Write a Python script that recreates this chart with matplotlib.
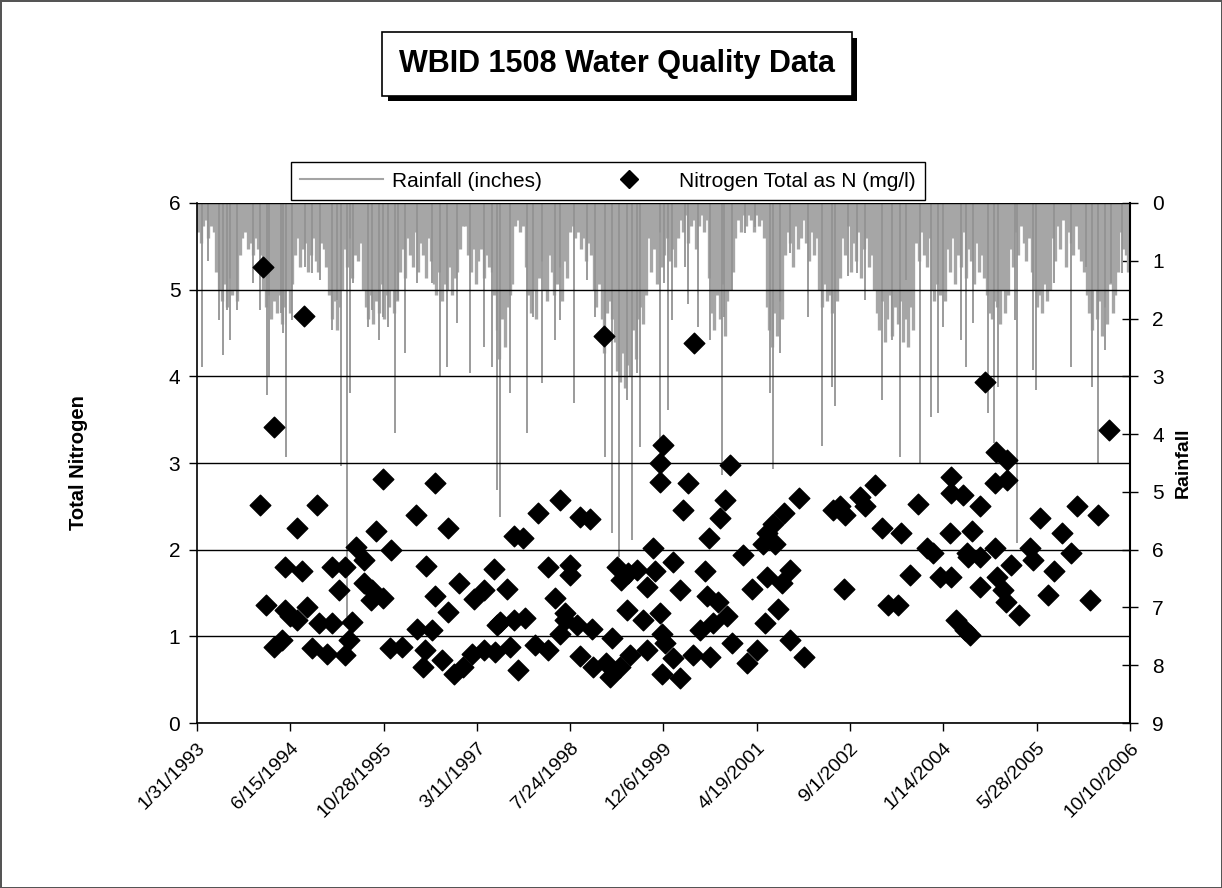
import matplotlib
matplotlib.use("Agg")
import matplotlib.pyplot as plt
import matplotlib.dates as mdates
import matplotlib.patheffects as pe
from matplotlib.lines import Line2D
from datetime import datetime

plt.rcParams['font.family'] = ['Liberation Sans', 'DejaVu Sans']

# ---- data (decimal years) ----
# Total nitrogen samples (mg/l)
n_year = [1994.01, 1994.05, 1994.09, 1994.21, 1994.22, 1994.33, 1994.38, 1994.38, 1994.45, 1994.55,
          1994.55, 1994.62, 1994.65, 1994.70, 1994.77, 1994.84, 1994.87, 1994.99, 1995.06, 1995.06,
          1995.16, 1995.26, 1995.26, 1995.31, 1995.36, 1995.41, 1995.53, 1995.53, 1995.63, 1995.65,
          1995.71, 1995.82, 1995.82, 1995.92, 1995.93, 1996.09, 1996.29, 1996.31, 1996.40, 1996.43,
          1996.45, 1996.53, 1996.58, 1996.58, 1996.68, 1996.76, 1996.77, 1996.85, 1996.92, 1996.99,
          1997.12, 1997.14, 1997.29, 1997.29, 1997.44, 1997.46, 1997.48, 1997.53, 1997.63, 1997.68,
          1997.73, 1997.73, 1997.80, 1997.87, 1997.90, 1998.04, 1998.09, 1998.24, 1998.24, 1998.34,
          1998.41, 1998.41, 1998.49, 1998.49, 1998.56, 1998.56, 1998.66, 1998.70, 1998.70, 1998.85,
          1998.88, 1998.90, 1999.05, 1999.09, 1999.14, 1999.17, 1999.24, 1999.29, 1999.31, 1999.40,
          1999.41, 1999.44, 1999.54, 1999.63, 1999.68, 1999.68, 1999.78, 1999.81, 1999.88, 1999.88,
          1999.88, 1999.90, 1999.90, 1999.92, 1999.95, 2000.07, 2000.07, 2000.17, 2000.17, 2000.21,
          2000.29, 2000.36, 2000.37, 2000.46, 2000.54, 2000.56, 2000.59, 2000.61, 2000.65, 2000.73,
          2000.76, 2000.83, 2000.86, 2000.90, 2000.93, 2001.10, 2001.15, 2001.22, 2001.30, 2001.39,
          2001.42, 2001.44, 2001.44, 2001.54, 2001.56, 2001.61, 2001.66, 2001.69, 2001.78, 2001.78,
          2001.91, 2001.99, 2002.42, 2002.52, 2002.57, 2002.59, 2002.81, 2002.88, 2003.03, 2003.13,
          2003.22, 2003.37, 2003.42, 2003.55, 2003.67, 2003.79, 2003.89, 2003.99, 2004.13, 2004.15,
          2004.15, 2004.15, 2004.22, 2004.33, 2004.35, 2004.38, 2004.40, 2004.42, 2004.45, 2004.57,
          2004.57, 2004.57, 2004.65, 2004.79, 2004.79, 2004.80, 2004.82, 2004.91, 2004.95, 2004.96,
          2004.96, 2005.02, 2005.15, 2005.31, 2005.35, 2005.45, 2005.57, 2005.65, 2005.77, 2005.91,
          2006.00, 2006.18, 2006.31, 2006.47]
n_value = [2.52, 5.26, 1.36, 3.42, 0.88, 0.96, 1.80, 1.30, 1.23, 1.19,
           2.25, 1.75, 4.70, 1.34, 0.86, 2.52, 1.15, 0.80, 1.80, 1.15,
           1.53, 1.80, 0.78, 0.96, 1.17, 2.03, 1.88, 1.61, 1.42, 1.53,
           2.21, 2.81, 1.44, 0.86, 2.00, 0.88, 2.40, 1.09, 0.65, 0.84,
           1.81, 1.07, 2.77, 1.46, 0.73, 2.25, 1.28, 0.57, 1.61, 0.65,
           0.80, 1.43, 1.53, 0.84, 1.78, 0.82, 1.13, 1.17, 1.55, 0.88,
           2.16, 1.19, 0.61, 2.13, 1.21, 0.90, 2.42, 1.80, 0.84, 1.44,
           2.57, 1.03, 1.27, 1.19, 1.82, 1.71, 1.13, 2.38, 0.77, 2.35,
           1.09, 0.65, 4.46, 0.69, 0.53, 0.98, 1.80, 0.65, 1.65, 1.30,
           1.73, 0.78, 1.77, 1.19, 1.57, 0.84, 2.02, 1.75, 3.00, 2.78,
           1.27, 1.03, 0.57, 3.21, 0.92, 1.86, 0.75, 1.53, 0.52, 2.46,
           2.77, 0.78, 4.38, 1.07, 1.75, 1.46, 2.13, 0.76, 1.15, 1.40,
           2.36, 2.57, 1.23, 2.98, 0.92, 1.94, 0.69, 1.55, 0.84, 2.07,
           1.15, 2.19, 1.69, 2.30, 2.07, 1.32, 1.61, 2.42, 1.77, 0.96,
           2.60, 0.76, 2.46, 2.50, 1.55, 2.40, 2.61, 2.50, 2.75, 2.25,
           1.36, 1.36, 2.19, 1.71, 2.53, 2.02, 1.96, 1.69, 2.19, 2.84,
           2.65, 1.69, 1.19, 2.63, 1.07, 1.96, 1.92, 1.02, 2.21, 2.50,
           1.92, 1.57, 3.94, 2.77, 2.02, 3.13, 1.69, 1.53, 1.40, 3.03,
           2.80, 1.82, 1.25, 2.02, 1.88, 2.36, 1.48, 1.75, 2.19, 1.96,
           2.50, 1.42, 2.40, 3.38]

# Rainfall (inches): long individual storm strands
rain_year = [1993.16, 1993.25, 1993.40, 1993.47, 1993.52, 1993.57, 1993.67, 1993.91, 1994.01, 1994.11,
             1994.14, 1994.31, 1994.34, 1994.39, 1994.48, 1994.67, 1994.77, 1994.89, 1995.06, 1995.14,
             1995.20, 1995.28, 1995.33, 1995.38, 1995.60, 1995.65, 1995.75, 1995.82, 1995.89, 1995.99,
             1996.04, 1996.14, 1996.31, 1996.53, 1996.65, 1996.75, 1996.90, 1997.09, 1997.29, 1997.41,
             1997.48, 1997.53, 1997.68, 1997.93, 1998.02, 1998.14, 1998.34, 1998.41, 1998.61, 1998.80,
             1998.92, 1999.07, 1999.17, 1999.27, 1999.39, 1999.46, 1999.54, 1999.58, 1999.88, 1999.93,
             2000.00, 2000.05, 2000.24, 2000.29, 2000.44, 2000.61, 2000.78, 2000.81, 2000.93, 2001.12,
             2001.27, 2001.49, 2001.54, 2001.64, 2001.78, 2002.05, 2002.25, 2002.40, 2002.44, 2002.64,
             2002.76, 2002.88, 2003.13, 2003.28, 2003.40, 2003.49, 2003.69, 2003.86, 2003.96, 2004.03,
             2004.30, 2004.37, 2004.47, 2004.69, 2004.77, 2004.84, 2005.08, 2005.11, 2005.35, 2005.40,
             2005.65, 2005.91, 2006.13, 2006.21, 2006.31, 2006.40, 2006.50, 2006.65]
rain_inches = [2.83, 1.01, 2.02, 2.63, 1.85, 2.37, 1.85, 1.39, 1.85, 3.32,
               3.00, 1.91, 2.25, 4.39, 2.02, 1.10, 1.22, 1.33, 2.20, 1.68,
               4.56, 7.16, 3.29, 1.39, 2.14, 1.85, 2.37, 1.97, 2.14, 3.98,
               1.68, 2.60, 1.39, 1.39, 3.00, 2.83, 2.08, 2.95, 2.49, 2.83,
               4.97, 5.43, 3.29, 3.98, 1.97, 3.12, 2.37, 2.02, 3.47, 1.33,
               1.97, 4.39, 5.72, 6.12, 3.41, 5.83, 2.95, 4.22, 4.10, 1.39,
               3.58, 2.02, 1.10, 1.74, 2.14, 2.37, 4.70, 1.97, 1.51, 0.52,
               0.41, 3.29, 4.60, 2.60, 0.87, 1.97, 4.20, 3.18, 3.52, 1.27,
               1.22, 1.68, 3.41, 2.37, 4.39, 1.33, 4.50, 3.70, 3.64, 2.14,
               2.37, 2.83, 2.08, 3.64, 4.16, 3.18, 2.02, 5.89, 2.89, 3.24,
               1.39, 2.83, 1.10, 3.18, 4.50, 2.54, 1.39, 1.22]

# Rainfall (inches): the dense band of smaller daily totals, 26 readings per year
band_years = list(range(1993, 2007))
band_inches = [
    [0.0, 0.0, 0.5, 0.7, 0.4, 0.3, 0.6, 0.4, 0.5, 1.2, 1.5, 1.7, 1.4, 1.8, 1.3, 1.6, 1.5, 1.7, 0.9, 0.6, 0.5, 0.8, 0.7, 0.9, 0.6, 0.8],
    [0.9, 1.5, 1.8, 1.6, 2.0, 1.7, 1.9, 1.6, 2.1, 1.8, 1.5, 1.9, 1.4, 0.9, 0.6, 1.1, 0.8, 0.7, 1.2, 0.9, 0.6, 1.0, 1.2, 0.7, 0.8, 1.1],
    [1.6, 2.0, 1.7, 2.2, 1.8, 1.5, 0.8, 1.1, 0.6, 1.3, 0.9, 1.0, 0.7, 1.5, 1.8, 2.0, 1.6, 2.1, 1.7, 1.9, 1.4, 2.0, 1.6, 1.8, 1.5, 1.9],
    [1.7, 1.2, 0.8, 1.3, 0.6, 0.9, 1.1, 0.5, 1.2, 0.7, 0.9, 1.3, 0.6, 1.0, 1.4, 1.6, 1.2, 1.7, 1.4, 1.5, 1.1, 1.6, 1.3, 1.2, 0.8, 0.4],
    [0.4, 0.9, 1.2, 0.8, 1.4, 1.0, 0.8, 1.3, 0.9, 1.1, 1.2, 1.6, 2.2, 2.7, 2.0, 2.5, 1.8, 1.6, 1.4, 0.4, 0.3, 0.5, 0.4, 1.1, 1.6, 1.9],
    [1.5, 2.0, 1.3, 1.0, 1.5, 1.7, 0.9, 1.2, 1.6, 1.4, 1.1, 1.7, 1.0, 1.3, 0.5, 0.4, 0.6, 0.5, 0.8, 0.6, 1.0, 0.7, 0.9, 1.5, 1.8, 1.4],
    [2.0, 2.6, 1.9, 1.7, 2.0, 2.4, 2.9, 3.1, 2.6, 3.2, 2.8, 3.0, 2.2, 2.7, 2.0, 1.8, 2.1, 1.6, 0.6, 1.2, 0.8, 1.4, 0.5, 1.1, 0.9, 0.6],
    [1.0, 0.8, 1.1, 0.6, 0.3, 0.5, 0.2, 0.7, 0.4, 0.3, 0.8, 0.4, 0.2, 0.5, 0.3, 1.3, 1.9, 2.2, 1.6, 2.0, 1.4, 2.3, 1.7, 1.5, 1.2, 0.6],
    [0.3, 0.5, 0.2, 0.4, 0.2, 0.3, 0.5, 0.2, 0.4, 0.3, 0.6, 1.8, 2.2, 2.5, 1.9, 2.3, 1.7, 2.0, 0.9, 0.5, 0.7, 1.1, 0.4, 0.8, 0.6, 0.3],
    [0.7, 1.0, 0.5, 0.9, 0.6, 1.5, 1.8, 1.4, 1.7, 1.6, 1.9, 1.5, 1.7, 1.3, 0.6, 0.9, 0.4, 1.2, 0.7, 1.0, 0.5, 1.3, 0.8, 0.6, 1.1, 0.9],
    [1.5, 1.9, 2.2, 1.7, 2.4, 2.0, 1.6, 2.3, 1.8, 2.1, 1.7, 2.4, 2.0, 2.5, 1.8, 2.2, 0.7, 1.0, 0.5, 0.9, 1.1, 0.6, 1.5, 1.7, 1.4, 1.6],
    [1.5, 1.7, 0.8, 1.2, 0.6, 1.4, 0.9, 1.1, 0.5, 1.3, 0.8, 1.0, 1.4, 0.7, 1.2, 0.9, 1.3, 1.6, 1.9, 2.0, 1.7, 1.8, 2.1, 1.5, 1.9, 1.6],
    [0.8, 1.1, 0.5, 0.9, 0.4, 0.7, 1.0, 0.6, 1.2, 1.5, 1.8, 1.6, 1.9, 1.4, 1.7, 1.5, 0.6, 1.0, 0.4, 0.8, 0.3, 1.1, 0.5, 0.7, 0.9, 0.4],
    [0.8, 1.0, 1.2, 1.6, 1.9, 2.2, 1.5, 2.0, 1.7, 2.3, 1.8, 2.1, 1.4, 1.9, 1.6, 1.2, 0.5, 0.8, 0.9, 1.2, 1.0, 0.0, 0.0, 0.0, 0.0, 0.0],
]

axis_start = datetime(1993, 1, 31)
tick_step_days = 500
n_ticks = 11


def year_to_num(y):
    yi = int(y)
    a = mdates.date2num(datetime(yi, 1, 1))
    b = mdates.date2num(datetime(yi + 1, 1, 1))
    return a + (y - yi) * (b - a)


def main():
    fig = plt.figure(figsize=(12.22, 8.88), dpi=100)
    fig.patch.set_edgecolor('#555555')
    fig.patch.set_linewidth(1.0)

    ax = fig.add_axes([0.1612, 0.1858, 0.7635, 0.5856])
    ax2 = ax.twinx()

    rain_grey = '#a4a4a4'
    # band of daily totals
    bx, by = [], []
    for yr, row in zip(band_years, band_inches):
        for j, v in enumerate(row):
            if v > 0:
                bx.append(year_to_num(yr + (j + 0.5) / 26.0))
                by.append(v)
    ax2.vlines(bx, 0, by, color='#a6a6a6', linewidth=2.4)
    ax2.vlines([year_to_num(y) for y in rain_year], 0, rain_inches,
               color='#939393', linewidth=1.3)

    ax.scatter([year_to_num(y) for y in n_year], n_value, marker='D', s=110,
               color='black', zorder=5)

    t0 = mdates.date2num(axis_start)
    ticks = [t0 + tick_step_days * k for k in range(n_ticks)]
    ax.set_xlim(ticks[0], ticks[-1])
    ax.set_xticks(ticks)
    labels = []
    for t in ticks:
        d = mdates.num2date(t)
        labels.append(f"{d.month}/{d.day}/{d.year}")
    ax.set_xticklabels(labels, rotation=45, ha='right', rotation_mode='anchor', fontsize=14)

    ax.set_ylim(0, 6)
    ax.set_yticks(range(0, 7))
    ax.grid(axis='y', color='black', linewidth=1.0)
    ax.tick_params(axis='y', labelsize=15, length=6, width=1, direction='out', pad=6)
    ax.tick_params(axis='x', length=6, width=1, direction='out', pad=6)
    ax.set_ylabel('Total Nitrogen', fontsize=14.5, fontweight='bold', labelpad=58)

    ax2.set_ylim(9, 0)
    ax2.set_yticks(range(0, 10))
    ax2.tick_params(axis='y', labelsize=15, length=12, width=1, direction='inout', pad=10)
    ax2.set_ylabel('Rainfall', fontsize=14, fontweight='bold', labelpad=8)

    for s in ['top', 'right']:
        ax.spines[s].set_visible(False)
    for s in ['top', 'left', 'bottom']:
        ax2.spines[s].set_visible(False)
    ax.spines['left'].set_linewidth(1.2)
    ax.spines['bottom'].set_linewidth(1.2)
    ax2.spines['right'].set_linewidth(1.5)

    # diamonds above the rainfall
    ax.set_zorder(ax2.get_zorder() + 1)
    ax.patch.set_visible(False)

    title = fig.text(0.505, 0.928, 'WBID 1508 Water Quality Data', ha='center', va='center',
                     fontsize=22, fontweight='bold',
                     bbox=dict(boxstyle='square,pad=0.55', facecolor='white',
                               edgecolor='black', linewidth=1.2))
    title.get_bbox_patch().set_path_effects([
        pe.SimplePatchShadow(offset=(4, -4), shadow_rgbFace='black', alpha=1.0),
        pe.Normal()])

    handles = [Line2D([], [], color=rain_grey, linewidth=1.5),
               Line2D([], [], color='black', marker='D', linestyle='none', markersize=9)]
    fig.legend(handles, ['Rainfall (inches)', 'Nitrogen Total as N (mg/l)'],
               loc='center', bbox_to_anchor=(0.4975, 0.796), ncol=2, fontsize=15,
               frameon=True, fancybox=False, edgecolor='black', framealpha=1,
               handlelength=4.0, columnspacing=2.2, handletextpad=0.4,
               borderpad=0.45)

    fig.savefig('out.png', dpi=100)


if __name__ == '__main__':
    main()
